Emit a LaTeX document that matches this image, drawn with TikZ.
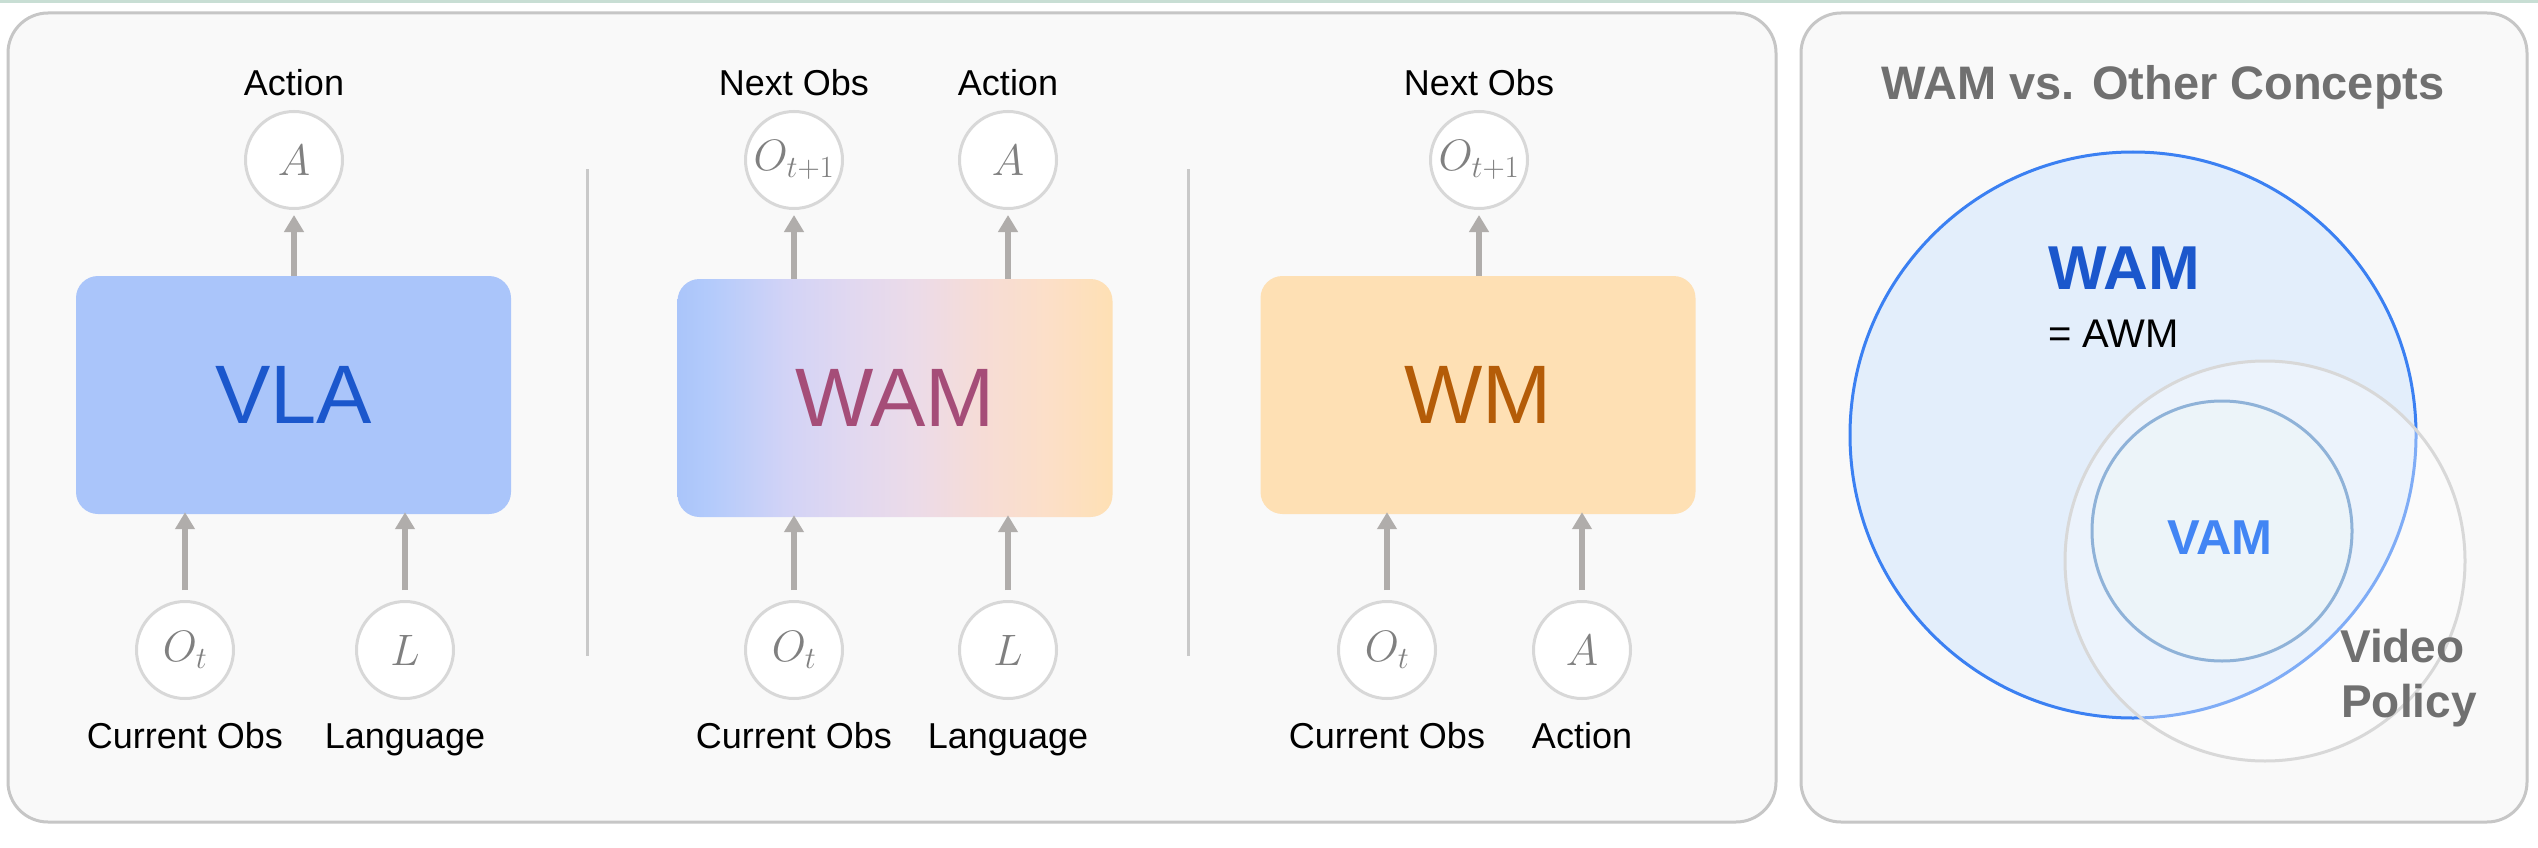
\RequirePackage{fix-cm}
\documentclass[tikz,border=0pt]{standalone}
\usepackage{fontspec}
\setmainfont{Liberation Sans}
\usetikzlibrary{arrows.meta}
\definecolor{topline}{RGB}{200,222,212}
\definecolor{panelbg}{RGB}{249,249,249}
\definecolor{panelline}{RGB}{198,198,198}
\definecolor{circgray}{RGB}{216,216,216}
\definecolor{mathgray}{RGB}{128,128,128}
\definecolor{arrgray}{RGB}{176,173,171}
\definecolor{divgray}{RGB}{201,201,201}
\definecolor{vlablue}{RGB}{170,197,250}
\definecolor{vlatext}{RGB}{27,87,204}
\definecolor{wamtext}{RGB}{165,77,120}
\definecolor{wmorange}{RGB}{254,224,180}
\definecolor{wmtext}{RGB}{180,92,8}
\definecolor{titlegray}{RGB}{112,112,112}
\definecolor{wamfill}{RGB}{227,238,251}
\definecolor{wamline}{RGB}{59,128,242}
\definecolor{vamline}{RGB}{143,178,216}
\definecolor{vamfill}{RGB}{236,246,247}
\definecolor{vamtext}{RGB}{66,133,244}
\definecolor{ga}{RGB}{170,197,250}
\definecolor{gb}{RGB}{180,203,251}
\definecolor{gc}{RGB}{210,211,246}
\definecolor{gd}{RGB}{225,216,240}
\definecolor{ge}{RGB}{236,219,232}
\definecolor{gf}{RGB}{246,220,214}
\definecolor{gg}{RGB}{252,223,200}
\definecolor{gh}{RGB}{254,224,180}
\pgfdeclarehorizontalshading{wamgrad}{100bp}{color(0bp)=(ga); color(25bp)=(ga); color(29bp)=(gb); color(37.5bp)=(gc); color(45bp)=(gd); color(52.5bp)=(ge); color(60bp)=(gf); color(67.5bp)=(gg); color(75bp)=(gh); color(100bp)=(gh)}
\begin{document}
\begin{tikzpicture}[x=1pt,y=-1pt,
  panel/.style={fill=panelbg,draw=panelline,line width=3pt,rounded corners=40pt},
  obs/.style={circle,draw=circgray,line width=3pt,fill=white,minimum size=97pt,inner sep=0pt,text=mathgray,font=\fontsize{44}{52}\selectfont},
  lbl/.style={font=\fontsize{36}{43}\selectfont,anchor=base,inner sep=0pt},
  bigbox/.style={rounded corners=22pt,minimum width=435pt,minimum height=238pt,inner sep=0pt,font=\fontsize{83}{100}\selectfont},
  arr/.style={draw=arrgray,line width=6pt,-{Triangle[width=19pt,length=17pt]}},
  divider/.style={draw=divgray,line width=3pt},
  venn/.style={font=\fontsize{46}{55}\selectfont\bfseries,inner sep=0pt}]
\useasboundingbox (0,0) rectangle (2538,848);
\fill[white] (0,0) rectangle (2538,848);
\fill[topline] (0,0) rectangle (2538,3);
\draw[panel] (8,13) rectangle (1776,822);
\draw[panel] (1801,13) rectangle (2527,822);
% dividers
\draw[divider] (587,169) -- (587,656);
\draw[divider] (1188,169) -- (1188,656);
% ---------- VLA ----------
\node[bigbox,fill=vlablue,text=vlatext] (vla) at (293.5,395) {VLA};
\node[obs] (vlaA) at (294,160) {$A$};
\node[obs] (vlaO) at (185,650) {$O_t$};
\node[obs] (vlaL) at (405,650) {$L$};
\node[lbl] (vlaAl) at (294,96) {Action};
\node[lbl] (vlaOl) at (185,748) {Current Obs};
\node[lbl] (vlaLl) at (405,748) {Language};
\draw[arr,shorten >=5pt] (vla.north -| vlaA) -- (vlaA);
\draw[arr,shorten <=10pt,shorten >=-2pt] (vlaO) -- (vlaO |- vla.south);
\draw[arr,shorten <=10pt,shorten >=-2pt] (vlaL) -- (vlaL |- vla.south);
% ---------- WAM ----------
\node[bigbox,shading=wamgrad,text=wamtext] (wam) at (895,398) {WAM};
\node[obs] (wamO1) at (794,160) {$O_{t+1}$};
\node[obs] (wamA) at (1008,160) {$A$};
\node[obs] (wamO) at (794,650) {$O_t$};
\node[obs] (wamL) at (1008,650) {$L$};
\node[lbl] (wamO1l) at (794,96) {Next Obs};
\node[lbl] (wamAl) at (1008,96) {Action};
\node[lbl] (wamOl) at (794,748) {Current Obs};
\node[lbl] (wamLl) at (1008,748) {Language};
\draw[arr,shorten >=5pt] (wam.north -| wamO1) -- (wamO1);
\draw[arr,shorten >=5pt] (wam.north -| wamA) -- (wamA);
\draw[arr,shorten <=10pt,shorten >=-2pt] (wamO) -- (wamO |- wam.south);
\draw[arr,shorten <=10pt,shorten >=-2pt] (wamL) -- (wamL |- wam.south);
% ---------- WM ----------
\node[bigbox,fill=wmorange,text=wmtext] (wm) at (1478,395) {WM};
\node[obs] (wmO1) at (1479,160) {$O_{t+1}$};
\node[obs] (wmO) at (1387,650) {$O_t$};
\node[obs] (wmA) at (1582,650) {$A$};
\node[lbl] (wmO1l) at (1479,96) {Next Obs};
\node[lbl] (wmOl) at (1387,748) {Current Obs};
\node[lbl] (wmAl) at (1582,748) {Action};
\draw[arr,shorten >=5pt] (wm.north -| wmO1) -- (wmO1);
\draw[arr,shorten <=10pt,shorten >=-2pt] (wmO) -- (wmO |- wm.south);
\draw[arr,shorten <=10pt,shorten >=-2pt] (wmA) -- (wmA |- wm.south);
% ---------- Venn ----------
\node[font=\fontsize{47}{56}\selectfont\bfseries,text=titlegray,anchor=base,inner sep=0pt] (title) at (2163,100) {WAM vs. Other Concepts};
\draw[fill=wamfill,draw=wamline,line width=3pt] (2133,435) circle[radius=283pt];
\draw[fill=white,fill opacity=0.35,draw=circgray,line width=3pt] (2265,561) circle[radius=200pt];
\draw[fill=vamfill,fill opacity=0.55,draw=vamline,line width=3pt] (2222,531) circle[radius=130pt];
\node[font=\fontsize{62}{74}\selectfont\bfseries,text=vlatext,anchor=base west,inner sep=0pt] (wamlbl) at (2048,289) {WAM};
\node[font=\fontsize{40}{48}\selectfont,anchor=base west,inner sep=0pt] (awm) at (2048,347) {= AWM};
\node[venn,font=\fontsize{49}{58}\selectfont\bfseries,text=vamtext,anchor=base] (vam) at (2220,554) {VAM};
\node[venn,text=titlegray,anchor=base west] (video) at (2340,662) {Video};
\node[venn,text=titlegray,anchor=base west] (policy) at (2341,717) {Policy};
\end{tikzpicture}
\end{document}
